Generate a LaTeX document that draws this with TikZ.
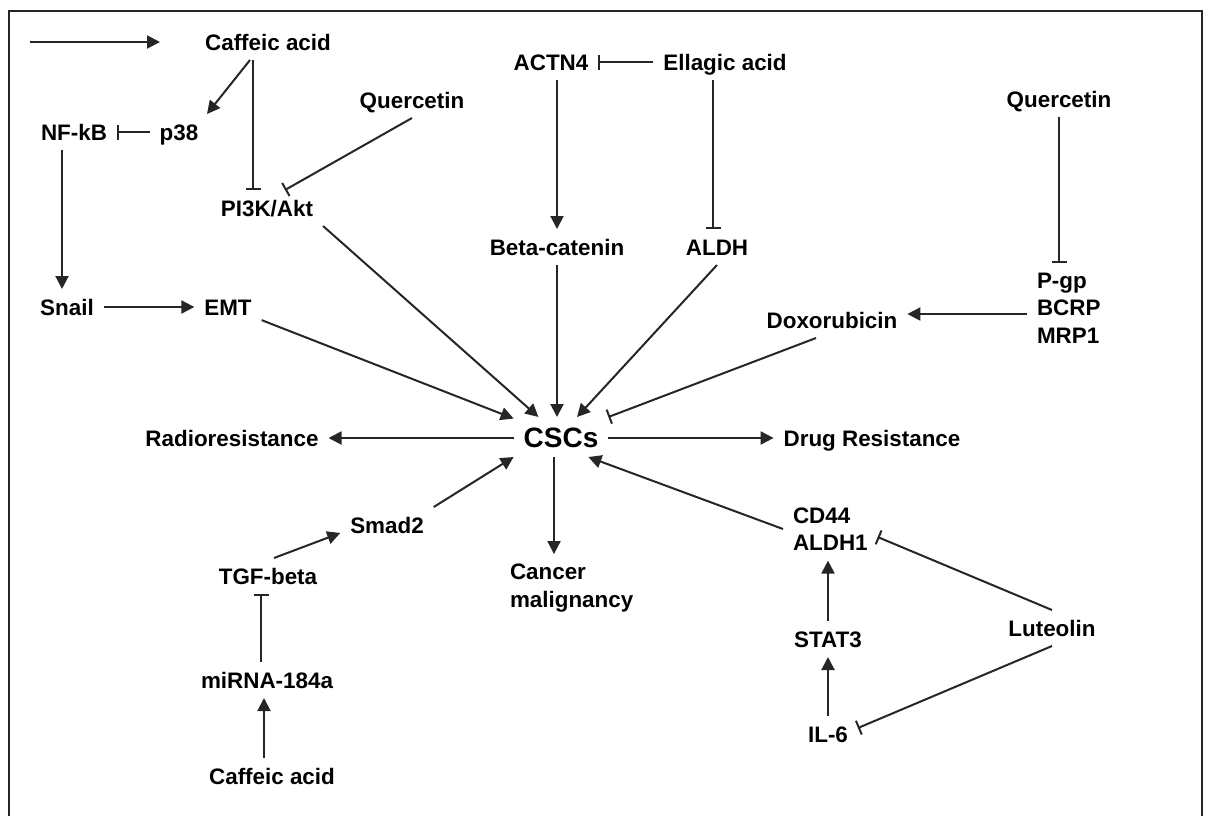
\documentclass[tikz,border=0pt]{standalone}
\usepackage{fontspec}
\setmainfont{Liberation Sans}
\usepackage{tikz}
\usetikzlibrary{arrows.meta,positioning}
\definecolor{dfink}{RGB}{38,38,38}
\tikzstyle{mol} = [inner sep=0pt, outer sep=5pt, text height=8pt, text depth=0pt, text=black, font=\fontsize{11.2pt}{13.75pt}\selectfont\bfseries]
\tikzstyle{molblock} = [inner sep=0pt, outer sep=5pt, anchor=west, align=left, text=black, font=\fontsize{11.2pt}{13.75pt}\selectfont\bfseries]
\tikzstyle{hub} = [mol, text height=10pt, font=\fontsize{14pt}{17pt}\selectfont\bfseries]
\tikzstyle{arrow} = [line width=1pt, color=dfink, -{Triangle[length=6.5pt,width=6.5pt]}]
\tikzstyle{inhibit} = [line width=1pt, color=dfink, -{Bar[width=7.5pt]}]
\tikzstyle{frameline} = [line width=1pt, color=dfink]

\begin{document}
\begin{tikzpicture}[x=0.5pt, y=-0.5pt]
\useasboundingbox (0,0) rectangle (1211,816);
% frame
\draw[frameline] (9,816) -- (9,11) -- (1202,11) -- (1202,816);

% key
\coordinate (keyA) at (30,42);
\coordinate (keyB) at (160,42);
\draw[arrow] (keyA) -- (keyB);

% nodes
\node[mol] (caf1) at (268,42) {Caffeic acid};
\node[mol] (nfkb) at (74,132) {NF-kB};
\node[mol] (p38) at (179,132) {p38};
\node[mol] (quer1) at (412,100) {Quercetin};
\node[mol] (pik) at (267,208) {PI3K/Akt};
\node[mol] (snail) at (67,307) {Snail};
\node[mol] (emt) at (228,307) {EMT};
\node[mol] (actn) at (551,62) {ACTN4};
\node[mol] (ella) at (725,62) {Ellagic acid};
\node[mol] (beta) at (557,247) {Beta-catenin};
\node[mol] (aldh) at (717,247) {ALDH};
\node[mol] (quer2) at (1059,99) {Quercetin};
\node[molblock] (pgp) at (1027,308) {P-gp\\BCRP\\MRP1};
\node[mol] (doxo) at (832,320) {Doxorubicin};
\node[hub] (cscs) at (561,437) {CSCs};
\node[mol] (radio) at (232,438) {Radioresistance};
\node[mol] (drug) at (872,438) {Drug Resistance};
\node[molblock] (cancer) at (500,588) {Cancer\\malignancy};
\node[mol] (smad) at (387,525) {Smad2};
\node[mol] (tgf) at (268,576) {TGF-beta};
\node[mol] (mirna) at (267,680) {miRNA-184a};
\node[mol] (caf2) at (272,776) {Caffeic acid};
\node[molblock] (cd44) at (783,529) {CD44\\ALDH1};
\node[mol] (stat3) at (828,639) {STAT3};
\node[mol] (il6) at (828,734) {IL-6};
\node[mol] (lute) at (1052,628) {Luteolin};

% upper left
\draw[arrow] ([xshift=-9pt]caf1.south) -- ([xshift=14pt]p38.north);
\draw[inhibit] ([xshift=-7.5pt]caf1.south) -- ([xshift=-7.5pt]caf1.south |- pik.north);
\draw[inhibit] (p38) -- (nfkb);
\draw[inhibit] (quer1.south) -- ([xshift=9pt]pik.north);
\draw[arrow] ([xshift=-6pt]nfkb.south) -- ([xshift=-6pt]nfkb.south |- snail.north);
\draw[arrow] (snail) -- (emt);

% upper middle and right
\draw[inhibit] (ella) -- (actn);
\draw[arrow] (actn.south -| beta.north) -- (beta.north);
\draw[inhibit] ([xshift=-6pt]ella.south) -- ([xshift=-6pt]ella.south |- aldh.north);
\draw[inhibit] (quer2.south) -- (quer2.south |- pgp.north);
\draw[arrow] ([yshift=-3pt]pgp.west) -- ([yshift=-3pt]pgp.west -| doxo.east);

% into CSCs
\draw[arrow] (emt) -- (cscs);
\draw[arrow] (pik.south east) -- (cscs);
\draw[arrow] (beta.south) -- (beta.south |- cscs.north);
\draw[arrow] (aldh.south) -- ([xshift=8pt]cscs.north);
\draw[inhibit] ([xshift=-8pt]doxo.south) -- (cscs.north east);
\draw[arrow] (smad.north east) -- (cscs.south west);
\draw[arrow] (cd44.west) -- ([xshift=-10pt]cscs.south east);

% out of CSCs
\draw[arrow] ([yshift=-0.5pt]cscs.west) -- (radio);
\draw[arrow] ([yshift=-0.5pt]cscs.east) -- (drug);
\draw[arrow] ([xshift=-3.5pt]cscs.south) -- ([xshift=-3.5pt]cscs.south |- cancer.north);

% lower left
\draw[arrow] ([xshift=3pt]tgf.north) -- ([yshift=-4pt]smad.west);
\draw[inhibit] ([xshift=-3pt]mirna.north) -- ([xshift=-3pt]mirna.north |- tgf.south);
\draw[arrow] ([xshift=-4pt]caf2.north) -- ([xshift=-4pt]caf2.north |- mirna.south);

% lower right
\draw[arrow] (stat3.north) -- (stat3.north |- cd44.south);
\draw[arrow] (il6) -- (stat3);
\draw[inhibit] (lute.north) -- ([yshift=-4pt]cd44.east);
\draw[inhibit] (lute.south) -- ([yshift=3pt]il6.east);
\end{tikzpicture}
\end{document}
